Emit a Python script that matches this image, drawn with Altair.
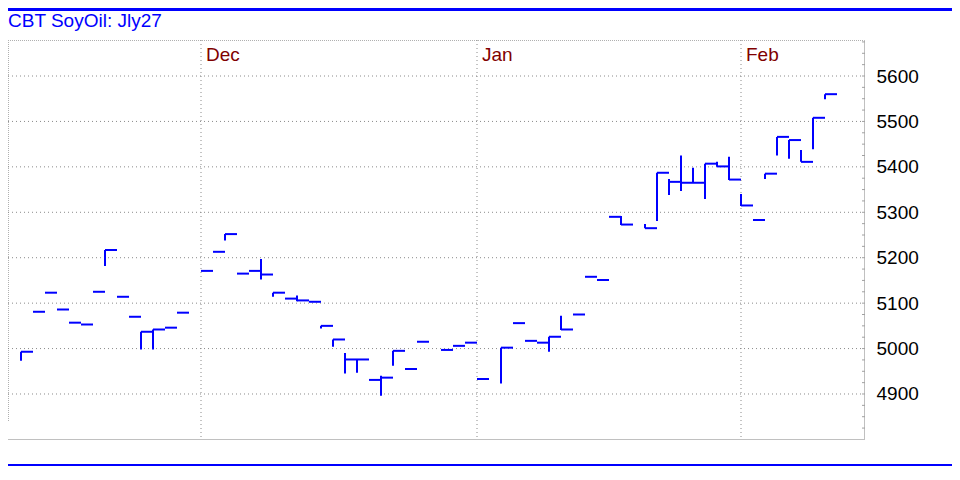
import altair as alt
import pandas as pd

# ---------------- data ----------------
title_text = ["CBT SoyOil: Jly27"]

# weekday slot index (0 = first weekday of December)
slot = [-15, -14, -13, -12, -11, -10, -9, -8, -7, -6, -5, -4, -3, -2,
        0, 1, 2, 3, 4, 5, 6, 7, 8, 9, 10, 11, 12, 13, 14, 15, 16, 17, 18, 20, 21, 22, 23,
        25, 26, 27, 28, 29, 30, 31, 32, 33, 34, 35, 37, 38, 39, 40, 41, 42, 43, 44,
        45, 46, 47, 48, 49, 50, 51, 52]
high = [4993, 5081, 5123, 5086, 5057, 5053, 5125, 5217, 5114, 5070, 5037, 5042, 5046, 5079,
        5171, 5213, 5252, 5165, 5171, 5197, 5123, 5110, 5117, 5103, 5050, 5020, 4990, 4976, 4931, 4940, 4995, 4955, 5015, 4997, 5006, 5013, 4933,
        5002, 5056, 5017, 5013, 5026, 5072, 5075, 5158, 5151, 5290, 5292, 5274, 5387, 5373, 5425, 5398, 5407, 5411, 5422,
        5340, 5283, 5385, 5466, 5459, 5437, 5508, 5560]
low = [4973, 5081, 5123, 5086, 5057, 5053, 5125, 5182, 5114, 5070, 4998, 4998, 5046, 5079,
       5171, 5213, 5238, 5165, 5171, 5152, 5114, 5110, 5104, 5103, 5044, 5004, 4945, 4947, 4931, 4896, 4962, 4955, 5015, 4997, 5006, 5013, 4933,
       4923, 5056, 5017, 5013, 4993, 5041, 5075, 5158, 5151, 5290, 5272, 5265, 5281, 5338, 5347, 5365, 5329, 5400, 5371,
       5314, 5283, 5373, 5425, 5418, 5411, 5439, 5549]
close = [4993, 5081, 5123, 5086, 5057, 5053, 5125, 5217, 5114, 5070, 5037, 5042, 5046, 5079,
         5171, 5213, 5252, 5165, 5171, 5163, 5123, 5110, 5106, 5103, 5050, 5020, 4976, 4976, 4931, 4936, 4995, 4955, 5015, 4997, 5006, 5013, 4933,
         5002, 5056, 5017, 5013, 5026, 5042, 5075, 5158, 5151, 5290, 5273, 5265, 5387, 5367, 5365, 5365, 5407, 5401, 5372,
         5315, 5283, 5385, 5466, 5459, 5411, 5508, 5560]

month_labels = ["Dec", "Jan", "Feb"]
month_slots = [0, 23, 45]

price_ticks = [4900, 5000, 5100, 5200, 5300, 5400, 5500, 5600]
minor_ticks = [4825, 4850, 4875, 4900, 4925, 4950, 4975, 5000, 5025, 5050, 5075, 5100,
               5125, 5150, 5175, 5200, 5225, 5250, 5275, 5300, 5325, 5350, 5375, 5400,
               5425, 5450, 5475, 5500, 5525, 5550, 5575, 5600, 5625, 5650, 5675]

# ---------------- chart ----------------
W, H = 857, 400
TOTAL_W, TOTAL_H = 944, 458
PAD_TOP = 32
FONT = "Liberation Sans"
BLUE = "#0000FF"

xs = alt.Scale(domain=[-193 / 12, 664 / 12], nice=False, zero=False)
ys = alt.Scale(domain=[4798.74, 5679.25], nice=False, zero=False)
yaxis = alt.Axis(orient="right", values=price_ticks, grid=False, domain=False,
                 ticks=False, labelPadding=11, labelFontSize=19, labelFont=FONT,
                 labelColor="black", title=None, format="d")

bars_df = pd.DataFrame({"slot": slot, "high": high, "low": low, "close": close})
months_df = pd.DataFrame({"slot": month_slots, "label": month_labels})
grid_df = pd.DataFrame({"p": price_ticks})
minor_df = pd.DataFrame({"p": minor_ticks})
one = pd.DataFrame({"t": title_text})

hgrid = alt.Chart(grid_df).mark_rule(color="#8a8a8a", strokeDash=[1, 3], strokeWidth=1).encode(
    y=alt.Y("p:Q", scale=ys, axis=yaxis),
    x=alt.value(0), x2=alt.value(W),
)

vgrid = alt.Chart(months_df).mark_rule(color="#8a8a8a", strokeDash=[1, 3], strokeWidth=1).encode(
    x=alt.X("slot:Q", scale=xs, axis=None), y=alt.value(0), y2=alt.value(H),
)

month_text = alt.Chart(months_df).mark_text(
    align="left", baseline="alphabetic", dx=5, fontSize=19, font=FONT, color="#800000"
).encode(x=alt.X("slot:Q", scale=xs, axis=None), y=alt.value(20.5), text="label:N")

top_border = alt.Chart(one).mark_rule(color="#b0b0b0", strokeDash=[1, 1], strokeWidth=1).encode(
    x=alt.value(0), x2=alt.value(W), y=alt.value(0.5))
left_border = alt.Chart(one).mark_rule(color="#b0b0b0", strokeDash=[1, 1], strokeWidth=1).encode(
    x=alt.value(0.5), y=alt.value(0), y2=alt.value(381))
right_border = alt.Chart(one).mark_rule(color="#c0c0c0", strokeWidth=1).encode(
    x=alt.value(W - 0.5), y=alt.value(0), y2=alt.value(H))
bottom_border = alt.Chart(one).mark_rule(color="#c0c0c0", strokeWidth=1).encode(
    x=alt.value(0), x2=alt.value(W), y=alt.value(H - 0.5))

minor = alt.Chart(minor_df).mark_rule(color="#a0a0a0", strokeWidth=1).encode(
    y=alt.Y("p:Q", scale=ys, axis=yaxis), x=alt.value(W - 3), x2=alt.value(W))

hl = alt.Chart(bars_df).mark_rule(color=BLUE, strokeWidth=2).encode(
    x=alt.X("slot:Q", scale=xs, axis=None),
    y=alt.Y("low:Q", scale=ys, axis=yaxis),
    y2="high:Q",
)
cl = alt.Chart(bars_df).transform_calculate(slot_end="datum.slot + 1").mark_rule(
    color=BLUE, strokeWidth=2
).encode(
    x=alt.X("slot:Q", scale=xs, axis=None),
    x2="slot_end:Q",
    y=alt.Y("close:Q", scale=ys, axis=yaxis),
)

title = alt.Chart(one).mark_text(
    align="left", baseline="alphabetic", fontSize=19, font=FONT, color=BLUE
).encode(x=alt.value(0), y=alt.value(-13), text="t:N")

top_blue = alt.Chart(one).mark_rule(color=BLUE, strokeWidth=3).encode(
    x=alt.value(0), x2=alt.value(TOTAL_W), y=alt.value(-PAD_TOP + 1.5))
bottom_blue = alt.Chart(one).mark_rule(color=BLUE, strokeWidth=2).encode(
    x=alt.value(0), x2=alt.value(TOTAL_W), y=alt.value(TOTAL_H - PAD_TOP - 1))

chart = alt.layer(
    top_border, left_border, hgrid, vgrid, right_border, bottom_border, minor,
    hl, cl, month_text, title, top_blue, bottom_blue
).properties(
    width=W, height=H,
    autosize=alt.AutoSizeParams(type="none"),
    padding={"left": 0, "top": PAD_TOP, "right": TOTAL_W - W, "bottom": TOTAL_H - PAD_TOP - H},
    background="white",
).configure_view(stroke=None)

chart.save("out.html", embed_options={"renderer": "svg", "actions": False})
